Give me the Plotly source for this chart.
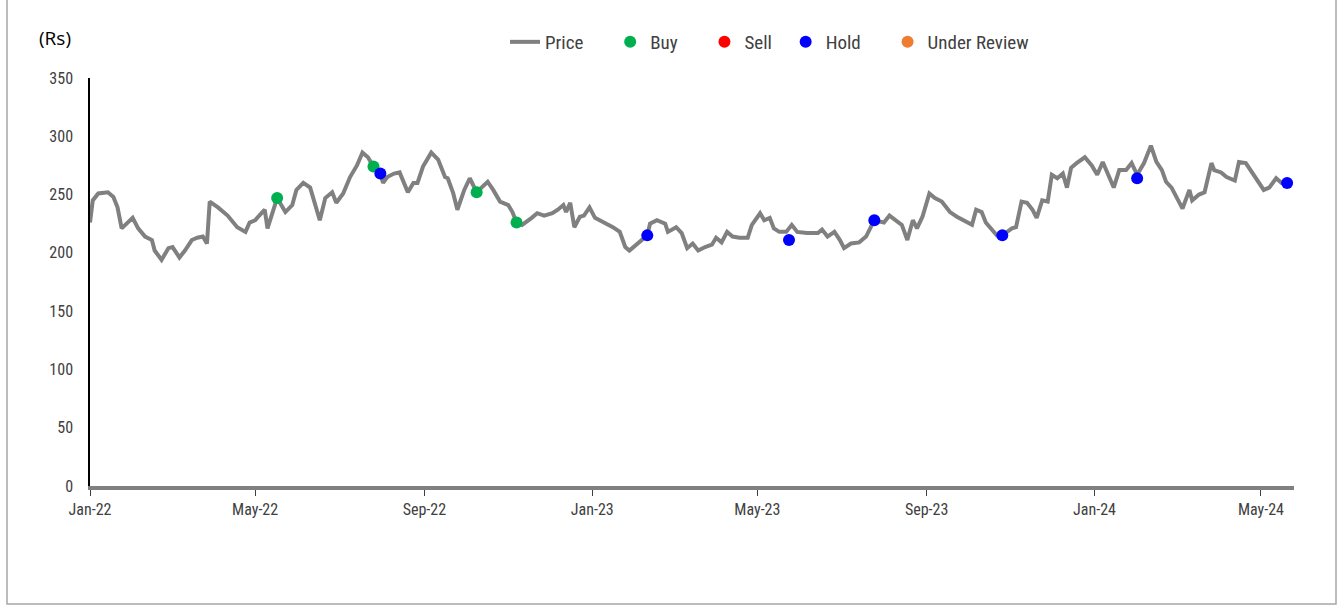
import plotly.graph_objects as go

# ---- data ----
price_dates = [
    "2022-01-01", "2022-01-03", "2022-01-07", "2022-01-14", "2022-01-18", "2022-01-21", "2022-01-24", "2022-01-28",
    "2022-02-01", "2022-02-05", "2022-02-10", "2022-02-15", "2022-02-17", "2022-02-22", "2022-02-27", "2022-03-02",
    "2022-03-07", "2022-03-11", "2022-03-16", "2022-03-20", "2022-03-24", "2022-03-27", "2022-03-29", "2022-04-04",
    "2022-04-11", "2022-04-18", "2022-04-24", "2022-04-27", "2022-05-01", "2022-05-04", "2022-05-08", "2022-05-10",
    "2022-05-14", "2022-05-17", "2022-05-23", "2022-05-28", "2022-05-31", "2022-06-05", "2022-06-10", "2022-06-13",
    "2022-06-17", "2022-06-21", "2022-06-26", "2022-06-29", "2022-07-04", "2022-07-09", "2022-07-14", "2022-07-18",
    "2022-07-22", "2022-07-26", "2022-07-31", "2022-08-02", "2022-08-05", "2022-08-10", "2022-08-14", "2022-08-20",
    "2022-08-24", "2022-08-27", "2022-08-31", "2022-09-06", "2022-09-11", "2022-09-16", "2022-09-18", "2022-09-22",
    "2022-09-25", "2022-09-30", "2022-10-04", "2022-10-09", "2022-10-13", "2022-10-17", "2022-10-21", "2022-10-26",
    "2022-11-01", "2022-11-04", "2022-11-07", "2022-11-11", "2022-11-18", "2022-11-22", "2022-11-27", "2022-12-03",
    "2022-12-07", "2022-12-11", "2022-12-13", "2022-12-16", "2022-12-19", "2022-12-23", "2022-12-26", "2022-12-30",
    "2023-01-03", "2023-01-10", "2023-01-16", "2023-01-21", "2023-01-25", "2023-01-28", "2023-02-02", "2023-02-10",
    "2023-02-12", "2023-02-17", "2023-02-23", "2023-02-25", "2023-03-03", "2023-03-07", "2023-03-11", "2023-03-15",
    "2023-03-19", "2023-03-24", "2023-03-29", "2023-04-01", "2023-04-05", "2023-04-09", "2023-04-13", "2023-04-18",
    "2023-04-24", "2023-04-27", "2023-05-03", "2023-05-06", "2023-05-10", "2023-05-13", "2023-05-17", "2023-05-22",
    "2023-05-26", "2023-05-30", "2023-06-06", "2023-06-14", "2023-06-17", "2023-06-21", "2023-06-26", "2023-06-30",
    "2023-07-03", "2023-07-08", "2023-07-14", "2023-07-19", "2023-07-25", "2023-08-01", "2023-08-05", "2023-08-10",
    "2023-08-14", "2023-08-18", "2023-08-22", "2023-08-25", "2023-08-29", "2023-09-03", "2023-09-07", "2023-09-12",
    "2023-09-18", "2023-09-23", "2023-09-30", "2023-10-04", "2023-10-07", "2023-10-11", "2023-10-14", "2023-10-18",
    "2023-10-22", "2023-10-26", "2023-11-02", "2023-11-05", "2023-11-09", "2023-11-13", "2023-11-17", "2023-11-20",
    "2023-11-24", "2023-11-28", "2023-12-01", "2023-12-05", "2023-12-09", "2023-12-12", "2023-12-15", "2023-12-19",
    "2023-12-25", "2023-12-30", "2024-01-03", "2024-01-07", "2024-01-10", "2024-01-15", "2024-01-19", "2024-01-24",
    "2024-01-28", "2024-02-01", "2024-02-06", "2024-02-11", "2024-02-15", "2024-02-19", "2024-02-22", "2024-02-26",
    "2024-03-01", "2024-03-05", "2024-03-10", "2024-03-12", "2024-03-17", "2024-03-21", "2024-03-26", "2024-03-28",
    "2024-04-02", "2024-04-06", "2024-04-12", "2024-04-15", "2024-04-20", "2024-04-25", "2024-04-28", "2024-05-03",
    "2024-05-07", "2024-05-12", "2024-05-16", "2024-05-20",
]
price_values = [
    226, 245, 251, 252, 248, 239, 221, 226,
    230, 221, 214, 211, 202, 194, 204, 205,
    196, 202, 211, 213, 214, 208, 244, 239,
    232, 222, 218, 226, 228, 232, 237, 221,
    235, 247, 235, 241, 254, 260, 256, 243,
    228, 247, 252, 243, 251, 265, 275, 286,
    282, 274, 268, 260, 265, 268, 269, 252,
    260, 260, 274, 286, 280, 265, 264, 251,
    237, 254, 264, 252, 256, 261, 254, 244,
    241, 235, 226, 224, 230, 234, 232, 234,
    237, 241, 235, 243, 222, 231, 232, 239,
    230, 226, 222, 218, 205, 202, 207, 215,
    225, 228, 225, 218, 222, 217, 204, 208,
    202, 205, 207, 213, 209, 218, 214, 213,
    213, 224, 234, 228, 230, 221, 218, 218,
    224, 218, 217, 217, 220, 214, 218, 211,
    204, 208, 209, 214, 228, 226, 232, 228,
    224, 211, 228, 221, 231, 251, 247, 244,
    235, 231, 226, 224, 237, 235, 226, 221,
    215, 215, 221, 222, 244, 243, 237, 230,
    245, 244, 267, 264, 268, 256, 273, 277,
    282, 275, 267, 278, 269, 256, 271, 271,
    277, 267, 277, 292, 278, 271, 261, 256,
    247, 238, 254, 245, 250, 252, 277, 271,
    269, 265, 262, 278, 277, 268, 264, 254,
    256, 264, 260, 260,
]

buy_dates = ["2022-05-17", "2022-07-26", "2022-10-09", "2022-11-07"]
buy_values = [247, 274, 252, 226]

sell_dates = []
sell_values = []

hold_dates = ["2022-07-31", "2023-02-10", "2023-05-24", "2023-07-25", "2023-10-26", "2024-02-01", "2024-05-20"]
hold_values = [268, 215, 211, 228, 215, 264, 260]

review_dates = []
review_values = []

series_names = ["Price", "Buy", "Sell", "Hold", "Under Review"]

# ---- figure ----
FONT = "Liberation Sans Narrow, Arial Narrow, Roboto Condensed, Liberation Sans, sans-serif"
NB = "\u00a0"
pad = [5, 5, 2, 5, 0]  # legend spacing
labels = [n + NB * p for n, p in zip(series_names, pad)]

fig = go.Figure()
fig.add_trace(go.Scatter(x=price_dates, y=price_values, name=labels[0], mode="lines",
                         line=dict(color="#808080", width=4)))
fig.add_trace(go.Scatter(x=buy_dates, y=buy_values, name=labels[1], mode="markers",
                         marker=dict(color="#00B050", size=12)))
fig.add_trace(go.Scatter(x=sell_dates or [None], y=sell_values or [None], name=labels[2], mode="markers",
                         marker=dict(color="#FF0000", size=12)))
fig.add_trace(go.Scatter(x=hold_dates, y=hold_values, name=labels[3], mode="markers",
                         marker=dict(color="#0000FF", size=12)))
fig.add_trace(go.Scatter(x=review_dates or [None], y=review_values or [None], name=labels[4], mode="markers",
                         marker=dict(color="#ED7D31", size=12)))

L, R, T, B = 90, 45, 78, 121
W, H = 1339, 607
pw, ph = W - L - R, H - T - B

def px(xp):
    return (xp - L) / pw

def py(yp):
    return (H - B - yp) / ph

fig.update_layout(
    width=W, height=H,
    margin=dict(l=L, r=R, t=T, b=B, pad=0),
    paper_bgcolor="white", plot_bgcolor="white",
    font=dict(family=FONT, size=16, color="#404040"),
    showlegend=True,
    legend=dict(orientation="h", x=px(505), xanchor="left", y=py(42), yanchor="middle",
                font=dict(family=FONT, size=19, color="#404040"),
                bgcolor="rgba(0,0,0,0)", itemwidth=30),
    xaxis=dict(type="date", range=["2022-01-01", "2024-05-25"],
               tick0="2022-01-01", dtick="M4", tickformat="%b-%y",
               showgrid=False, zeroline=False,
               showline=True, linecolor="#808080", linewidth=4,
               ticks="outside", ticklen=6, tickcolor="#404040", tickwidth=1,
               tickfont=dict(family=FONT, size=16, color="#404040")),
    yaxis=dict(range=[0, 350], dtick=50, showgrid=False, zeroline=False,
               showline=True, linecolor="#000000", linewidth=1.5,
               ticks="", ticklabelstandoff=12,
               tickfont=dict(family=FONT, size=16, color="#404040")),
    annotations=[dict(text="(Rs)", xref="paper", yref="paper", x=px(37), y=py(38),
                      xanchor="left", yanchor="middle", showarrow=False,
                      font=dict(family="Open Sans, Lato, sans-serif", size=19, color="#000000"))],
    shapes=[dict(type="rect", xref="paper", yref="paper",
                 x0=px(7), x1=px(1336), y0=py(604), y1=py(-5),
                 line=dict(color="#A6A6A6", width=1.5), fillcolor="rgba(0,0,0,0)", layer="below")],
)

fig.write_html("out.html")
